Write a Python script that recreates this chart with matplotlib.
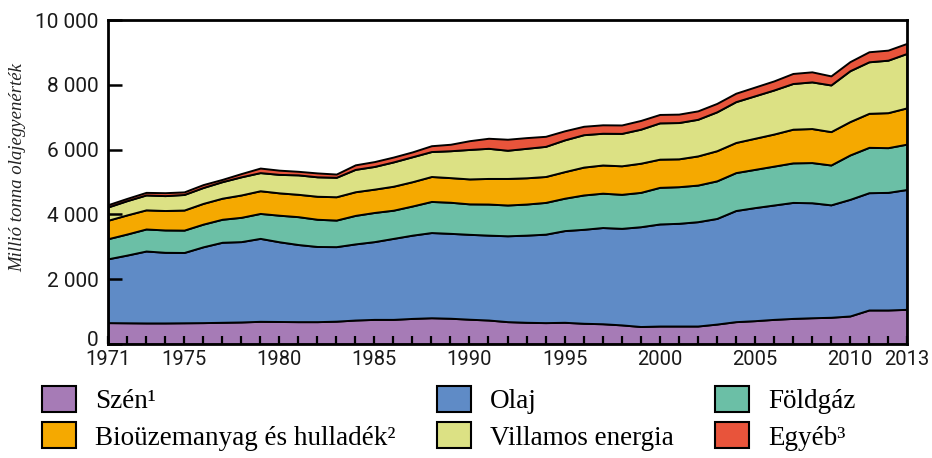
import matplotlib
matplotlib.use("Agg")
import matplotlib.pyplot as plt
from matplotlib.patches import Patch
from matplotlib.transforms import ScaledTranslation

years = list(range(1971, 2014))

coal = [660, 655, 650, 650, 655, 660, 670, 680, 700, 695, 690, 690, 705, 740, 760, 760, 790, 810, 795, 765,
        740, 690, 670, 660, 670, 640, 625, 590, 540, 555, 555, 555, 615, 690, 720, 760, 790, 810, 825, 865,
        1050, 1050, 1070]
oil = [1970, 2090, 2220, 2180, 2170, 2340, 2470, 2480, 2560, 2460, 2380, 2320, 2300, 2350, 2400, 2500, 2570, 2630,
       2620, 2620, 2620, 2650, 2690, 2730, 2830, 2900, 2970, 2980, 3080, 3150, 3170, 3220, 3260, 3430, 3490, 3530,
       3580, 3550, 3470, 3600, 3620, 3630, 3700]
gas = [620, 650, 680, 690, 690, 700, 710, 750, 770, 820, 860, 840, 820, 880, 900, 870, 900, 960, 960, 940, 960,
       950, 960, 980, 1000, 1060, 1060, 1050, 1060, 1130, 1130, 1130, 1160, 1170, 1180, 1200, 1220, 1240, 1230,
       1370, 1400, 1380, 1400]
bio = [570, 590, 590, 600, 620, 640, 650, 690, 700, 690, 690, 710, 720, 730, 720, 740, 750, 770, 760, 770, 790,
       820, 810, 800, 820, 860, 870, 880, 900, 870, 860, 900, 930, 930, 960, 990, 1040, 1050, 1030, 1030, 1050,
       1080, 1120]
elec = [410, 440, 460, 460, 480, 490, 510, 560, 560, 570, 600, 600, 600, 690, 700, 750, 770, 770, 830, 910, 930,
        870, 910, 930, 980, 1000, 980, 1000, 1050, 1120, 1120, 1130, 1200, 1260, 1310, 1360, 1410, 1440, 1440,
        1570, 1590, 1620, 1680]
other = [70, 70, 80, 90, 80, 90, 70, 100, 140, 130, 110, 120, 100, 140, 150, 150, 150, 180, 200, 270, 310, 340,
         330, 310, 280, 260, 260, 260, 270, 260, 260, 260, 260, 260, 270, 280, 310, 310, 280, 280, 310, 310, 310]

series_names = ["Szén¹", "Olaj", "Földgáz", "Bioüzemanyag és hulladék²", "Villamos energia", "Egyéb³"]
colors = ["#A67BB6", "#5F8BC6", "#6BBFA6", "#F5A900", "#DCE184", "#E8543B"]

xtick_vals = [1971, 1975, 1980, 1985, 1990, 1995, 2000, 2005, 2010, 2013]
ytick_vals = [0, 2000, 4000, 6000, 8000, 10000]
ytick_labels = ["0", "2 000", "4 000", "6 000", "8 000", "10 000"]

tick_font = ["Roboto", "DejaVu Sans"]

fig = plt.figure(figsize=(9.32, 4.58), dpi=100)
ax = fig.add_axes([108 / 932, 1 - 344 / 458, (907 - 108) / 932, (344 - 20) / 458])

ax.stackplot(years, coal, oil, gas, bio, elec, other, colors=colors,
             edgecolor="black", linewidth=1.4)

ax.set_xlim(1971, 2013)
ax.set_ylim(0, 10000)

ax.set_xticks(xtick_vals)
ax.set_xticks(years, minor=True)
ax.set_yticks(ytick_vals)
ax.set_yticklabels(ytick_labels)

for sp in ax.spines.values():
    sp.set_linewidth(2.0)
    sp.set_color("black")

ax.tick_params(axis="y", which="major", direction="in", length=10, width=1.8, pad=7,
               labelsize=15, colors="black")
ax.tick_params(axis="x", which="both", direction="in", length=6, width=1.6, pad=4,
               labelsize=14.5, colors="black")
for lab in ax.get_xticklabels() + ax.get_yticklabels():
    lab.set_family(tick_font)
    lab.set_color("#1a1a1a")

# lift the "0" label slightly, as in the reference
ylabs = ax.get_yticklabels()
ylabs[0].set_transform(ylabs[0].get_transform() + ScaledTranslation(0, 5 / 100, fig.dpi_scale_trans))

fig.text(18 / 932, 1 - 167 / 458, "Millió tonna olajegyenérték", rotation=90,
         family="Liberation Serif", style="italic", fontsize=13.5,
         ha="center", va="center", color="#222222")

handles = [Patch(facecolor=c, edgecolor="black", linewidth=1.5) for c in colors]
col_x = [42, 437, 715]
col_items = [[0, 3], [1, 4], [2, 5]]
for cx, items in zip(col_x, col_items):
    leg = fig.legend([handles[i] for i in items], [series_names[i] for i in items],
                     ncol=1, loc="upper left", bbox_to_anchor=(cx / 932, 1 - 386 / 458),
                     frameon=False, prop={"family": "Liberation Serif", "size": 19.5},
                     handlelength=1.25, handleheight=1.1, handletextpad=0.7,
                     labelspacing=0.3, borderaxespad=0, borderpad=0)

fig.savefig("out.png", dpi=100)
